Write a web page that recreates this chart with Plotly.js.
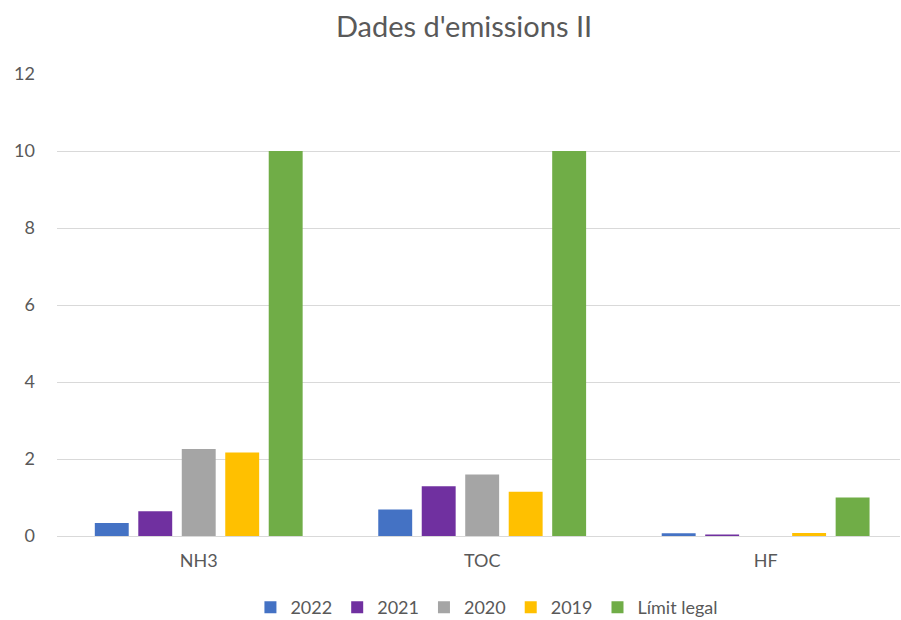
<!DOCTYPE html>
<html>
<head>
<meta charset="utf-8">
<script src="https://cdn.plot.ly/plotly-3.0.1.min.js"></script>
<style>html,body{margin:0;padding:0;background:#fff;}#chart{width:901px;height:620px;}</style>
</head>
<body>
<div id="chart"></div>
<script>
var categories = ["NH3", "TOC", "HF"];
var seriesNames = ["2022", "2021", "2020", "2019", "Límit legal"];
var v2022 = [0.34, 0.69, 0.07];
var v2021 = [0.64, 1.29, 0.04];
var v2020 = [2.26, 1.60, 0];
var v2019 = [2.17, 1.15, 0.08];
var vLimit = [10, 10, 1];
var yTicks = [0, 2, 4, 6, 8, 10, 12];
var colors = ["#4472C4", "#7030A0", "#A5A5A5", "#FFC000", "#70AD47"];

var allValues = [v2022, v2021, v2020, v2019, vLimit];
var traces = allValues.map(function(vals, i) {
  return {
    type: "bar",
    name: seriesNames[i],
    x: categories,
    y: vals,
    marker: {color: colors[i]},
    hoverinfo: "x+y+name"
  };
});

var font = "Lato, 'Liberation Sans', sans-serif";
var layout = {
  width: 901,
  height: 620,
  margin: {l: 57, r: 1, t: 74, b: 84, autoexpand: false},
  paper_bgcolor: "#fff",
  plot_bgcolor: "#fff",
  barmode: "group",
  bargap: 0.233,
  bargroupgap: 0.22,
  font: {family: font, color: "#595959", size: 18},
  title: {text: "Dades d'emissions II", font: {family: font, size: 29, color: "#595959"}, x: 0.515, xanchor: "center", y: 0.956, yanchor: "middle"},
  xaxis: {
    range: [-0.5, 2.474],
    showgrid: false,
    showline: true,
    linecolor: "#d9d9d9",
    linewidth: 1,
    ticks: "",
    tickfont: {size: 18, color: "#595959"},
    ticklabelstandoff: 8,
    automargin: false
  },
  yaxis: {
    range: [0, 12],
    tickvals: yTicks,
    ticktext: yTicks.map(String),
    showgrid: true,
    gridcolor: "#d9d9d9",
    gridwidth: 1,
    zeroline: true,
    zerolinecolor: "#d9d9d9",
    showline: false,
    ticks: "",
    ticklabelstandoff: 21,
    tickfont: {size: 18, color: "#595959"},
    automargin: false
  },
  legend: {
    orientation: "h",
    x: 0.51,
    xanchor: "center",
    y: -0.155,
    yanchor: "middle",
    font: {size: 18, color: "#595959"},
    itemwidth: 30,
    traceorder: "normal"
  },
  showlegend: true
};

Plotly.newPlot("chart", traces, layout, {displayModeBar: false, staticPlot: true});
</script>
</body>
</html>
